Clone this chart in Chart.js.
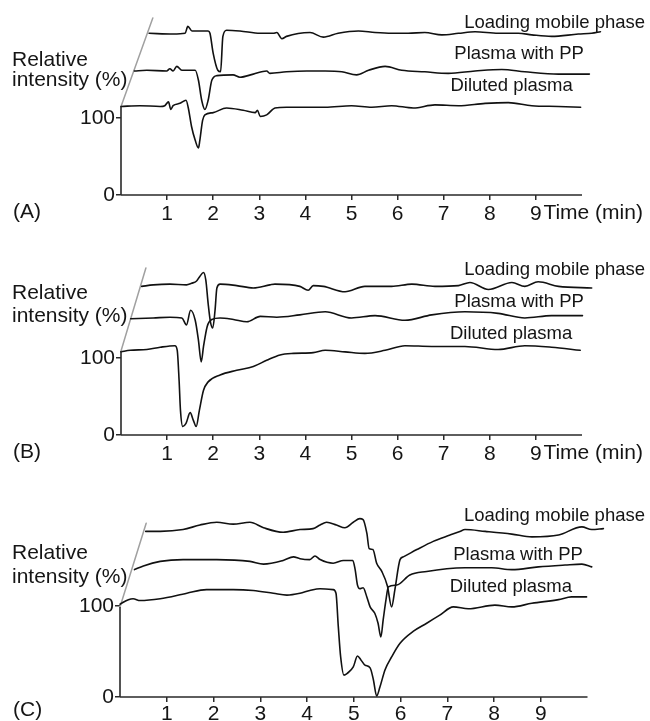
<!DOCTYPE html>
<html>
<head>
<meta charset="utf-8">
<script src="https://cdn.jsdelivr.net/npm/chart.js@4.4.1/dist/chart.umd.min.js"></script>
<style>
  body { margin: 0; background: #fff; width: 650px; height: 721px; position: relative; overflow: hidden; }
  canvas { position: absolute; left: 0; }
</style>
</head>
<body>
<canvas id="chartA" width="650" height="240" style="top:0"></canvas>
<canvas id="chartB" width="650" height="240" style="top:240px"></canvas>
<canvas id="chartC" width="650" height="241" style="top:480px"></canvas>
<script>
// tick values and labels
const xTicks = [1, 2, 3, 4, 5, 6, 7, 8, 9];
const yTicks = [0, 100];
const traceNames = ["Loading mobile phase", "Plasma with PP", "Diluted plasma"];

// traces as printed (staggered pseudo-3D frame): [time (min), relative intensity (%)]
// panel A
const aLoading = [[0.61,210],[1.13,209],[1.39,210],[1.45,219],[1.54,213],[1.89,213],[1.93,210],[2.0,184],[2.1,162],[2.16,160],[2.21,206],[2.29,214],[2.58,213],[3.02,210],[3.3,210],[3.38,211],[3.49,203],[3.59,206],[4.1,211],[4.39,205],[4.71,210],[5.15,213],[5.51,211],[5.87,210],[6.23,210],[6.59,211],[6.96,208],[7.32,210],[7.68,212],[8.18,210],[8.62,210],[8.91,208],[9.34,206],[9.92,209],[10.21,210],[10.4,212]];
const aPlasmaPP = [[0.29,161],[0.56,162],[0.99,161],[1.06,164],[1.13,161],[1.21,167],[1.32,162],[1.61,162],[1.68,149],[1.75,123],[1.82,111],[1.89,123],[1.97,149],[2.08,155],[2.43,156],[2.58,153],[2.87,157],[3.16,161],[3.23,158],[3.59,160],[4.03,161],[4.43,161],[4.79,160],[5.11,156],[5.37,162],[5.73,167],[6.09,162],[6.59,160],[7.1,158],[7.68,161],[8.26,163],[8.76,160],[9.49,157],[10.16,157]];
const aDiluted = [[0,115],[0.41,116],[0.85,115],[0.95,116],[1.03,121],[1.08,111],[1.13,116],[1.28,119],[1.41,123],[1.46,113],[1.53,89],[1.61,71],[1.68,61],[1.71,71],[1.77,97],[1.82,104],[2.0,107],[2.29,113],[2.65,110],[2.91,107],[2.96,110],[3.02,102],[3.16,104],[3.34,113],[3.59,114],[4.1,114],[4.43,114],[5.0,116],[5.44,114],[5.87,116],[6.34,113],[6.81,117],[7.32,116],[7.9,119],[8.4,120],[8.91,116],[9.49,115],[9.97,114]];
const aGuide = [[0,115],[0.69,230]];
// panel B
const bLoading = [[0.45,193],[0.7,195],[1.06,196],[1.42,195],[1.53,197],[1.64,200],[1.71,206],[1.79,211],[1.84,201],[1.89,171],[1.94,147],[1.99,139],[2.04,162],[2.08,191],[2.15,196],[2.51,194],[2.87,191],[3.23,195],[3.34,196],[3.88,193],[4.06,188],[4.17,194],[4.39,193],[4.86,186],[5.29,193],[5.87,193],[6.31,196],[6.81,193],[7.32,194],[7.57,198],[7.97,189],[8.48,198],[8.76,193],[9.05,199],[9.49,193],[10.21,191]];
const bPlasmaPP = [[0.21,151],[0.7,152],[1.06,153],[1.32,152],[1.42,143],[1.51,162],[1.61,149],[1.68,123],[1.74,95],[1.79,115],[1.87,141],[1.97,150],[2.15,152],[2.44,150],[2.73,147],[3.02,154],[3.38,153],[3.88,156],[4.43,160],[5.0,152],[5.51,155],[6.16,149],[6.74,156],[7.46,160],[8.18,158],[8.76,152],[9.34,155],[10.01,155]];
const bDiluted = [[0,108],[0.2,110],[0.56,111],[0.85,114],[1.17,116],[1.22,110],[1.26,71],[1.29,32],[1.34,11],[1.41,15],[1.5,29],[1.57,19],[1.63,11],[1.7,32],[1.79,58],[1.89,69],[2.15,78],[2.51,84],[2.87,89],[3.16,97],[3.45,104],[3.74,106],[4.17,107],[4.43,110],[4.86,108],[5.29,106],[5.73,110],[6.16,116],[6.74,115],[7.46,115],[8.18,111],[8.76,116],[9.34,114],[9.96,110]];
const bGuide = [[0,109],[0.54,217]];
// panel C
const cLoading = [[0.55,182],[0.86,182],[1.35,184],[1.71,189],[2.07,192],[2.42,190],[2.78,192],[3.07,186],[3.49,181],[3.85,184],[4.13,185],[4.28,189],[4.42,192],[4.63,189],[4.81,186],[4.99,192],[5.13,196],[5.2,195],[5.28,180],[5.33,163],[5.41,162],[5.49,147],[5.6,138],[5.72,122],[5.81,99],[5.88,118],[5.99,151],[6.06,154],[6.35,162],[6.7,171],[7.06,178],[7.27,182],[7.38,184],[7.81,182],[8.38,179],[8.81,176],[9.38,178],[9.88,187],[10.09,184],[10.34,185]];
const cPlasmaPP = [[0.31,140],[0.5,144],[0.86,149],[1.35,151],[2.07,151],[2.78,149],[3.07,146],[3.49,150],[3.71,154],[3.85,152],[4.06,151],[4.17,155],[4.28,151],[4.56,147],[4.78,150],[4.98,150],[5.03,140],[5.08,123],[5.13,119],[5.2,120],[5.28,110],[5.35,99],[5.45,92],[5.52,81],[5.58,66],[5.63,85],[5.69,107],[5.74,121],[5.92,123],[6.2,134],[6.56,138],[6.99,141],[7.38,142],[7.95,142],[8.38,140],[8.95,143],[9.52,145],[9.88,146],[10.09,143]];
const cDiluted = [[0,102],[0.18,107],[0.28,108],[0.43,106],[0.86,108],[1.43,114],[1.85,118],[2.42,118],[2.85,117],[3.28,114],[3.57,112],[3.85,114],[4.06,117],[4.28,119],[4.56,118],[4.62,114],[4.67,77],[4.72,44],[4.79,24],[4.86,26],[4.99,33],[5.08,45],[5.15,41],[5.24,35],[5.35,32],[5.42,19],[5.49,1],[5.56,11],[5.67,30],[5.81,44],[5.99,59],[6.27,72],[6.56,81],[6.84,90],[7.13,99],[7.45,97],[8.02,101],[8.38,99],[8.81,103],[9.38,107],[9.66,110],[9.98,110]];
const cGuide = [[0,99],[0.56,191]];

const FONT = "'Liberation Sans', Arial, Helvetica, sans-serif";
Chart.defaults.font.family = FONT;

const panels = [
  { id: "chartA", letter: "(A)", traces: [aLoading, aPlasmaPP, aDiluted], guide: aGuide,
    x0: 121, pxPerMin: 46.1, zero: 195, pxPerUnit: 0.77, yMax: 250, xMax: 10.5, tickPad: 1.5,
    titleY: [60, 80], letterY: 212, timeLabel: true,
    labelAt: [[11.37, 224], [10.04, 183], [9.8, 142]] },
  { id: "chartB", letter: "(B)", traces: [bLoading, bPlasmaPP, bDiluted], guide: bGuide,
    x0: 121, pxPerMin: 46.1, zero: 195, pxPerUnit: 0.77, yMax: 250, xMax: 10.5, tickPad: 1.5,
    titleY: [53, 76], letterY: 212, timeLabel: true,
    labelAt: [[11.37, 214], [10.04, 173], [9.79, 131]] },
  { id: "chartC", letter: "(C)", traces: [cLoading, cPlasmaPP, cDiluted], guide: cGuide,
    x0: 120, pxPerMin: 46.75, zero: 217, pxPerUnit: 0.91, yMax: 230, xMax: 10.5, tickPad: 0,
    titleY: [73, 97], letterY: 230, timeLabel: false,
    labelAt: [[11.23, 199], [9.9, 156], [9.67, 121]] }
];

const decorPlugin = {
  id: "decor",
  afterDraw(chart, args, opts) {
    const p = opts.panel;
    const ctx = chart.ctx;
    const xs = chart.scales.x, ys = chart.scales.y;
    ctx.save();
    // axis lines
    ctx.strokeStyle = "#2a2a2a";
    ctx.lineWidth = 1.6;
    ctx.beginPath();
    ctx.moveTo(xs.getPixelForValue(0), ys.getPixelForValue(0));
    ctx.lineTo(xs.getPixelForValue(10), ys.getPixelForValue(0));
    ctx.moveTo(xs.getPixelForValue(0), ys.getPixelForValue(0));
    ctx.lineTo(xs.getPixelForValue(0), ys.getPixelForValue(p.guide[0][1]));
    ctx.stroke();
    // texts
    ctx.fillStyle = "#151515";
    ctx.textBaseline = "middle";
    ctx.textAlign = "left";
    ctx.font = "21px " + FONT;
    ctx.fillText("Relative", 12, p.titleY[0]);
    ctx.fillText("intensity (%)", 12, p.titleY[1]);
    ctx.fillText(p.letter, 13, p.letterY);
    if (p.timeLabel) {
      ctx.fillText("Time (min)", xs.getPixelForValue(9) + 7.5, p.letterY + 1.5);
    }
    ctx.textAlign = "right";
    ctx.font = "18.5px " + FONT;
    traceNames.forEach((name, i) => {
      const [lx, ly] = p.labelAt[i];
      ctx.fillText(name, xs.getPixelForValue(lx), ys.getPixelForValue(ly));
    });
    ctx.restore();
  }
};

panels.forEach(p => {
  const canvas = document.getElementById(p.id);
  const W = canvas.width, H = canvas.height;
  const datasets = p.traces.map((tr, i) => ({
    label: traceNames[i],
    data: tr.map(([x, y]) => ({ x, y })),
    borderColor: "#111",
    borderWidth: 1.6,
    pointRadius: 0,
    cubicInterpolationMode: "monotone",
    fill: false
  }));
  datasets.push({
    label: "guide",
    data: p.guide.map(([x, y]) => ({ x, y })),
    borderColor: "#a0a0a0",
    borderWidth: 1.5,
    pointRadius: 0,
    fill: false
  });

  new Chart(canvas, {
    type: "line",
    data: { datasets },
    plugins: [decorPlugin],
    options: {
      responsive: false,
      animation: false,
      events: [],
      layout: {
        padding: {
          left: 0,
          top: p.zero - p.yMax * p.pxPerUnit,
          right: W - (p.x0 + p.xMax * p.pxPerMin),
          bottom: 0
        }
      },
      plugins: {
        legend: { display: false },
        tooltip: { enabled: false },
        decor: { panel: p }
      },
      elements: { line: { borderCapStyle: "round", borderJoinStyle: "round" } },
      datasets: { line: { clip: false } },
      scales: {
        x: {
          type: "linear",
          min: 0,
          max: p.xMax,
          border: { display: false },
          grid: {
            drawOnChartArea: false,
            drawTicks: true,
            tickLength: 5,
            lineWidth: 1.5,
            color: c => (c.tick && xTicks.includes(c.tick.value)) ? "#2a2a2a" : "rgba(0,0,0,0)"
          },
          ticks: {
            stepSize: 1,
            includeBounds: false,
            autoSkip: false,
            maxRotation: 0,
            padding: p.tickPad,
            color: "#151515",
            font: { size: 21 },
            callback: v => xTicks.includes(v) ? String(v) : ""
          },
          afterFit: s => { s.height = H - p.zero; s.paddingLeft = 0; s.paddingRight = 0; }
        },
        y: {
          type: "linear",
          min: 0,
          max: p.yMax,
          border: { display: false },
          grid: { drawOnChartArea: false, drawTicks: true, tickLength: 5, lineWidth: 1.5, color: "#2a2a2a" },
          ticks: { padding: 1, color: "#151515", font: { size: 21 } },
          afterBuildTicks: s => { s.ticks = yTicks.map(v => ({ value: v })); },
          afterFit: s => { s.width = p.x0; s.paddingTop = 0; s.paddingBottom = 0; }
        }
      }
    }
  });
});
</script>
</body>
</html>
